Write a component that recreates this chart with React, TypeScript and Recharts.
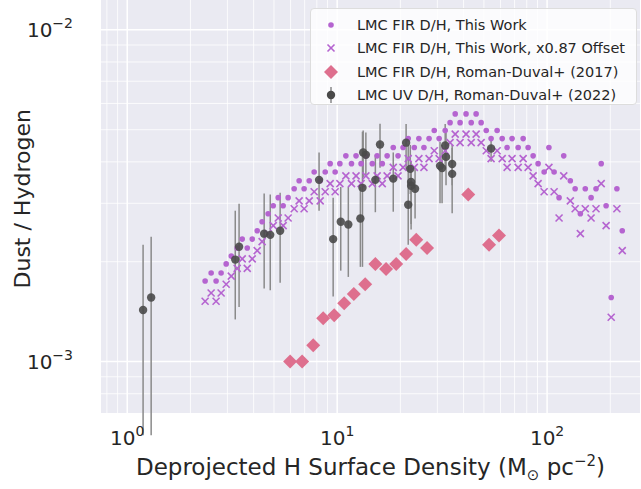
import React from "react";
import { ScatterChart, Scatter, XAxis, YAxis, ErrorBar, ReferenceLine, ReferenceArea } from "recharts";

const workX = [2.35,2.51,2.65,2.80,2.96,3.13,3.34,3.53,3.73,3.94,4.16,4.39,4.69,4.96,5.24,5.53,5.84,6.24,6.59,6.96,7.36,7.77,8.30,8.77,9.26,9.78,10.3,11.0,11.7,12.3,13.0,13.7,14.7,15.5,16.4,17.3,18.5,19.5,20.6,21.8,23.3,24.5,25.9,27.4,29.0,30.6,32.7,34.5,36.5,38.5,41.1,43.5,45.9,48.5,51.3,54.1,57.8,61.1,64.5,68.1,72.8,76.9,81.2,85.8,90.6,96.8,102,108,114,120,129,136,144,152,162,171,181,191,202,215,228];
const workY = [.00175,.00185,.00175,.00185,.00197,.00208,.00220,.00234,.00220,.00234,.00248,.00264,.00279,.00295,.00312,.00295,.00312,.00332,.00351,.00332,.00351,.00373,.00351,.00373,.00395,.00373,.00395,.00417,.00395,.00417,.00395,.00417,.00395,.00417,.00395,.00417,.00442,.00417,.00442,.00470,.00442,.00470,.00442,.00470,.00497,.00470,.00497,.00525,.00558,.00525,.00558,.00525,.00558,.00525,.00497,.00470,.00497,.00470,.00442,.00470,.00442,.00470,.00442,.00417,.00395,.00373,.00442,.00373,.00312,.00417,.00351,.00332,.00279,.00332,.00312,.00332,.00395,.00295,.00156,.00332,.00248];
const offsetY = [.00152,.00161,.00152,.00161,.00171,.00181,.00191,.00204,.00191,.00204,.00216,.00230,.00243,.00257,.00271,.00257,.00271,.00289,.00305,.00289,.00305,.00325,.00305,.00325,.00344,.00325,.00344,.00363,.00344,.00363,.00344,.00363,.00344,.00363,.00344,.00363,.00385,.00363,.00385,.00409,.00385,.00409,.00385,.00409,.00432,.00409,.00432,.00457,.00485,.00457,.00485,.00457,.00485,.00457,.00432,.00409,.00432,.00409,.00385,.00409,.00385,.00409,.00385,.00363,.00344,.00325,.00385,.00325,.00271,.00363,.00305,.00289,.00243,.00289,.00271,.00289,.00344,.00257,.00136,.00289,.00216];

const rdX = [5.97,6.81,7.69,8.58,9.68,10.8,12.0,13.6,15.2,17.1,19.1,21.3,23.8,26.8,42.1,52.9,59.0];
const rdY = [.00100,.00100,.00112,.00135,.00138,.00150,.00160,.00171,.00197,.00190,.00197,.00211,.00233,.00220,.00319,.00225,.00240];

const uvX = [1.19,1.30,3.27,3.41,4.49,4.80,5.35,8.20,9.57,10.4,11.3,12.9,13.2,13.3,13.7,15.2,16.0,18.5,21.3,21.8,22.3,22.5,22.5,23.5,30.9,31.6,32.7,33.0,35.3,35.3,54.1];
const uvY = [.00143,.00156,.00203,.00222,.00243,.00241,.00248,.00353,.00234,.00264,.00259,.00270,.00334,.00427,.00420,.00353,.00451,.00356,.00457,.00297,.00381,.00348,.00339,.00332,.00389,.00383,.00448,.00414,.00394,.00368,.00439];
const uvHi = [.00225,.00238,.00285,.00299,.00321,.00319,.00323,.00427,.00312,.00336,.00336,.00336,.00493,.00497,.00490,.00420,.00521,.00427,.00520,.00451,.00450,.00400,.00390,.00380,.00460,.00450,.00520,.00490,.00450,.00440,.00470];
const uvLo = [.00060,.00060,.00134,.00146,.00166,.00164,.00173,.00285,.00157,.00188,.00180,.00193,.00193,.00360,.00360,.00282,.00384,.00283,.00380,.00225,.00320,.00260,.00250,.00270,.00300,.00300,.00380,.00340,.00340,.00280,.00400];

const xTicks = [0.8,0.9,1,2,3,4,5,6,7,8,9,10,20,30,40,50,60,70,80,90,100,200];
const yTicks = [0.0008,0.0009,0.001,0.002,0.003,0.004,0.005,0.006,0.007,0.008,0.009,0.01];
const xMajor = [1, 10, 100];
const yMajor = [0.001, 0.01];

const work = workX.map((x, i) => ({ x, y: workY[i] }));
const offs = workX.map((x, i) => ({ x, y: offsetY[i] }));
const rd = rdX.map((x, i) => ({ x, y: rdY[i] }));
const uv = uvX.map((x, i) => ({ x, y: uvY[i], err: [uvY[i] - uvLo[i], uvHi[i] - uvY[i]] }));

const PURPLE = "#b564d0";
const PINK = "#de6f8e";
const GRAY = "#4a4a4a";
const FONT = "DejaVu Sans, sans-serif";

const XTick = (p: any) => {
  const v = p.payload.value;
  const i = xMajor.indexOf(v);
  if (i < 0) return null;
  return (
    <text x={p.x} y={p.y + 24} textAnchor="middle" fontSize={20} fill="#262626" fontFamily={FONT}>
      10<tspan dy={-9} fontSize={14}>{i}</tspan>
    </text>
  );
};
const YTick = (p: any) => {
  const v = p.payload.value;
  const i = yMajor.indexOf(v);
  if (i < 0) return null;
  return (
    <text x={p.x - 20} y={p.y + 7} textAnchor="end" fontSize={20} fill="#262626" fontFamily={FONT}>
      10<tspan dy={-9} fontSize={14}>{i === 0 ? "−3" : "−2"}</tspan>
    </text>
  );
};

const Dot = (p: any) => <circle cx={p.cx} cy={p.cy} r={2.8} fill={PURPLE} />;
const Cross = (p: any) => (
  <g stroke={PURPLE} strokeWidth={1.6}>
    <line x1={p.cx - 3.5} y1={p.cy - 3.5} x2={p.cx + 3.5} y2={p.cy + 3.5} />
    <line x1={p.cx - 3.5} y1={p.cy + 3.5} x2={p.cx + 3.5} y2={p.cy - 3.5} />
  </g>
);
const Diamond = (p: any) => (
  <polygon points={`${p.cx},${p.cy - 7} ${p.cx + 7},${p.cy} ${p.cx},${p.cy + 7} ${p.cx - 7},${p.cy}`} fill={PINK} />
);
const GDot = (p: any) => <circle cx={p.cx} cy={p.cy} r={4.2} fill={GRAY} fillOpacity={0.9} />;

const legendItems = [
  { label: "LMC FIR D/H, This Work", m: <circle cx={8} cy={8} r={2.8} fill={PURPLE} /> },
  { label: "LMC FIR D/H, This Work, x0.87 Offset", m: <g stroke={PURPLE} strokeWidth={1.6}><line x1={4.5} y1={4.5} x2={11.5} y2={11.5} /><line x1={4.5} y1={11.5} x2={11.5} y2={4.5} /></g> },
  { label: "LMC FIR D/H, Roman-Duval+ (2017)", m: <polygon points="8,1 15,8 8,15 1,8" fill={PINK} /> },
  { label: "LMC UV D/H, Roman-Duval+ (2022)", m: <g><line x1={8} y1={0} x2={8} y2={16} stroke="#888" strokeWidth={1.5} /><circle cx={8} cy={8} r={4.2} fill={GRAY} /></g> },
];

export default function App() {
  return (
    <div style={{ position: "absolute", left: 0, top: 0, width: 641, height: 489, background: "#fff", fontFamily: FONT }}>
      <ScatterChart width={641} height={489} margin={{ top: 0, right: 1, bottom: 46, left: 41 }}>
        <XAxis dataKey="x" type="number" scale="log" domain={[0.75, 277]} ticks={xTicks} tick={<XTick />} tickLine={false} axisLine={false} allowDataOverflow interval={0} height={30} />
        <YAxis dataKey="y" type="number" scale="log" domain={[0.0007, 0.0123]} ticks={yTicks} tick={<YTick />} tickLine={false} axisLine={false} allowDataOverflow width={60} interval={0}
          label={{ value: "Dust / Hydrogen", angle: -90, position: "insideLeft", dx: -24, dy: 82, fontSize: 22, fill: "#262626", fontFamily: FONT }} />
        <ReferenceArea x1={0.75} x2={277} y1={0.0007} y2={0.0123} fill="#eaeaf2" fillOpacity={1} stroke="none" />
        {xTicks.map(v => <ReferenceLine key={"x" + v} x={v} stroke="#fff" strokeWidth={xMajor.includes(v) ? 1.5 : 0.8} />)}
        {yTicks.map(v => <ReferenceLine key={"y" + v} y={v} stroke="#fff" strokeWidth={yMajor.includes(v) ? 1.5 : 0.8} />)}
        <Scatter data={work} shape={<Dot />} isAnimationActive={false} />
        <Scatter data={offs} shape={<Cross />} isAnimationActive={false} />
        <Scatter data={rd} shape={<Diamond />} isAnimationActive={false} />
        <Scatter data={uv} shape={<GDot />} isAnimationActive={false}>
          <ErrorBar dataKey="err" direction="y" width={0} stroke="#8a8a8a" strokeWidth={1.5} />
        </Scatter>
      </ScatterChart>
      <div style={{ position: "absolute", left: 81, width: 579, top: 452, textAlign: "center", fontSize: 23, color: "#262626", whiteSpace: "nowrap" }}>
        Deprojected H Surface Density (M<sub style={{ fontSize: 15 }}>⊙</sub> pc<sup style={{ fontSize: 15 }}>−2</sup>)
      </div>
      <div style={{ position: "absolute", left: 310, top: 8, width: 327, height: 97, background: "rgba(255,255,255,0.8)", border: "1px solid #ddd", borderRadius: 4, boxSizing: "border-box", padding: "4px 0 0 12px" }}>
        {legendItems.map((it, i) => (
          <div key={i} style={{ display: "flex", alignItems: "center", height: 23.5, fontSize: 14.5, color: "#262626" }}>
            <svg width={16} height={16} style={{ marginRight: 18 }}>{it.m}</svg>
            <span>{it.label}</span>
          </div>
        ))}
      </div>
    </div>
  );
}
